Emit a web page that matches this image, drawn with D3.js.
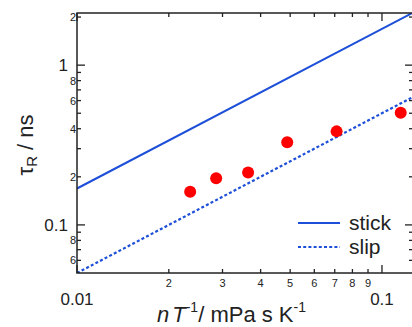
<!DOCTYPE html>
<html>
<head>
<meta charset="utf-8">
<script src="https://cdn.jsdelivr.net/npm/d3@7"></script>
<style>
  body { margin: 0; background: #fff; }
  svg { display: block; font-family: "Liberation Sans", Arial, sans-serif; }
</style>
</head>
<body>
<div id="chart"></div>
<script>
// measured points (viscosity / temperature vs rotational time)
var etaT = [0.0235, 0.0286, 0.0364, 0.0489, 0.0710, 0.1152];
var tauR = [0.161, 0.196, 0.213, 0.329, 0.385, 0.504];

// hydrodynamic limits (straight lines on log-log)
var limitX = [0.01, 0.1264];
var stickY = [0.169, 2.13];
var slipY = [0.05, 0.632];

// tick labels
var xMinor = [0.02, 0.03, 0.04, 0.05, 0.06, 0.07, 0.08, 0.09];
var xMajor = [0.01, 0.1];
var yMinor = [0.06, 0.07, 0.08, 0.09, 0.2, 0.3, 0.4, 0.5, 0.6, 0.7, 0.8, 0.9, 2];
var yMajor = [0.1, 1];
var yMinorLabel = {0.06: "6", 0.08: "8", 0.2: "2", 0.4: "4", 0.6: "6", 0.8: "8", 2: "2"};

var W = 412, H = 327;
// note: "top" is reserved on window, so use pL/pR/pT/pB
var pL = 77, pR = 413, pT = 13, pB = 273;
var ink = "#222";
var blue = "#1d4fd8";

var x = d3.scaleLog().domain([0.01, 0.1264]).range([pL, pR]);
var y = d3.scaleLog().domain([0.05, 2.12]).range([pB, pT]);

var svg = d3.select("#chart").append("svg")
  .attr("width", W).attr("height", H);

svg.append("defs").append("clipPath").attr("id", "clip")
  .append("rect").attr("x", pL).attr("y", pT)
  .attr("width", pR - pL).attr("height", pB - pT);

var plot = svg.append("g").attr("clip-path", "url(#clip)");

var line = d3.line().x(d => x(d[0])).y(d => y(d[1]));

plot.append("path")
  .datum(d3.zip(limitX, stickY))
  .attr("d", line).attr("fill", "none")
  .attr("stroke", blue).attr("stroke-width", 2);

plot.append("path")
  .datum(d3.zip(limitX, slipY))
  .attr("d", line).attr("fill", "none")
  .attr("stroke", blue).attr("stroke-width", 2.2)
  .attr("stroke-dasharray", "3,2.2");

plot.selectAll("circle.pt")
  .data(d3.zip(etaT, tauR))
  .enter().append("circle")
  .attr("class", "pt")
  .attr("cx", d => x(d[0]))
  .attr("cy", d => y(d[1]))
  .attr("r", 6)
  .attr("fill", "#f00");

// frame
svg.append("rect")
  .attr("x", pL).attr("y", pT)
  .attr("width", pR - pL).attr("height", pB - pT)
  .attr("fill", "none").attr("stroke", ink).attr("stroke-width", 1.5);

// ticks, all pointing inward
var ticks = svg.append("g").attr("stroke", ink).attr("stroke-width", 1.3);
xMinor.concat(xMajor).forEach(function(v) {
  var len = xMajor.indexOf(v) >= 0 ? 8 : 4;
  ticks.append("line").attr("x1", x(v)).attr("x2", x(v)).attr("y1", pB).attr("y2", pB - len);
  ticks.append("line").attr("x1", x(v)).attr("x2", x(v)).attr("y1", pT).attr("y2", pT + len);
});
yMinor.concat(yMajor).forEach(function(v) {
  var len = yMajor.indexOf(v) >= 0 ? 8 : 4;
  ticks.append("line").attr("y1", y(v)).attr("y2", y(v)).attr("x1", pL).attr("x2", pL + len);
  ticks.append("line").attr("y1", y(v)).attr("y2", y(v)).attr("x1", pR).attr("x2", pR - len);
});

// tick labels
svg.selectAll("text.xmin").data(xMinor).enter().append("text")
  .attr("x", d => x(d)).attr("y", 287)
  .attr("text-anchor", "middle").attr("font-size", 11).attr("fill", ink)
  .text(d => String(Math.round(d * 100)));
svg.selectAll("text.xmaj").data(xMajor).enter().append("text")
  .attr("x", d => x(d)).attr("y", 305)
  .attr("text-anchor", "middle").attr("font-size", 17).attr("fill", ink)
  .text(d => String(d));
svg.selectAll("text.ymin").data(yMinor.filter(d => yMinorLabel[d])).enter().append("text")
  .attr("x", 76).attr("y", d => y(d)).attr("dy", "0.36em")
  .attr("text-anchor", "end").attr("font-size", 11).attr("fill", ink)
  .text(d => yMinorLabel[d]);
svg.selectAll("text.ymaj").data(yMajor).enter().append("text")
  .attr("x", 68).attr("y", d => y(d)).attr("dy", "0.36em")
  .attr("text-anchor", "end").attr("font-size", 17).attr("fill", ink)
  .text(d => String(d));

// axis titles
var xt = svg.append("text").attr("x", 157).attr("y", 322)
  .attr("font-size", 22).attr("fill", ink);
xt.append("tspan").attr("font-style", "italic").text("n");
xt.append("tspan").attr("font-style", "italic").attr("dx", 3).text("T");
xt.append("tspan").attr("font-size", 14).attr("dy", -10).text("-1");
xt.append("tspan").attr("dy", 10).text("/ mPa s K");
xt.append("tspan").attr("font-size", 14).attr("dy", -10).text("-1");

var yt = svg.append("text")
  .attr("transform", "translate(33,145) rotate(-90)")
  .attr("text-anchor", "middle").attr("font-size", 22).attr("fill", ink);
yt.append("tspan").text("\u03c4");
yt.append("tspan").attr("font-size", 15).attr("dy", 4).text("R");
yt.append("tspan").attr("dy", -4).text(" / ns");

// legend
var legend = [
  {name: "stick", dash: null, y: 223},
  {name: "slip", dash: "3,2.2", y: 247}
];
legend.forEach(function(d) {
  svg.append("line").attr("x1", 298).attr("x2", 340).attr("y1", d.y).attr("y2", d.y)
    .attr("stroke", blue).attr("stroke-width", 2)
    .attr("stroke-dasharray", d.dash);
  svg.append("text").attr("x", 349).attr("y", d.y + 7)
    .attr("font-size", 21).attr("fill", ink).text(d.name);
});
</script>
</body>
</html>
